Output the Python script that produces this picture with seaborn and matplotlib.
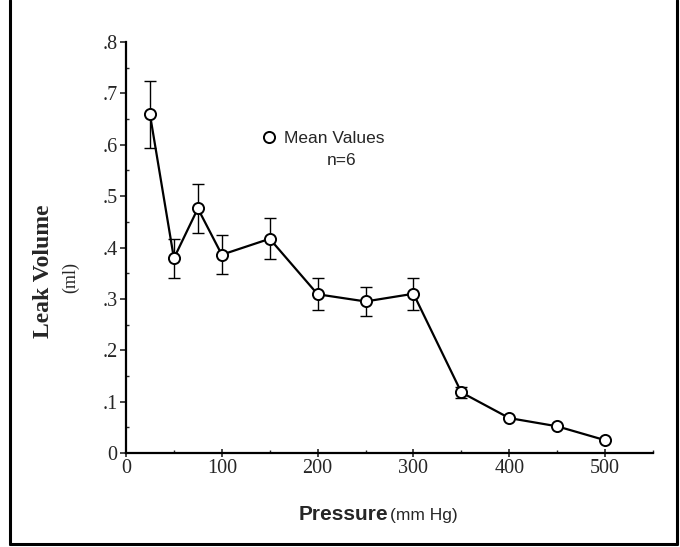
import numpy as np
import pandas as pd
import matplotlib
matplotlib.use("Agg")
import matplotlib.pyplot as plt
import seaborn as sns
from matplotlib.lines import Line2D
from matplotlib.ticker import FixedLocator, MultipleLocator

# values
pressure = [25, 50, 75, 100, 150, 200, 250, 300, 350, 400, 450, 500]
leak_mean = [0.659, 0.379, 0.476, 0.386, 0.417, 0.309, 0.295, 0.310, 0.118, 0.068, 0.052, 0.025]
leak_err = [0.066, 0.038, 0.047, 0.038, 0.040, 0.031, 0.028, 0.031, 0.010, 0.0, 0.0, 0.0]

x_ticks = [0, 100, 200, 300, 400, 500]
y_ticks = [0, 0.1, 0.2, 0.3, 0.4, 0.5, 0.6, 0.7, 0.8]
y_tick_labels = ["0", ".1", ".2", ".3", ".4", ".5", ".6", ".7", ".8"]

df = pd.DataFrame({"Pressure": pressure, "Leak": leak_mean, "Err": leak_err})

sns.set_style("ticks")
serif = "Liberation Serif"
sans = "Liberation Sans"

fig = plt.figure(figsize=(6.8, 5.47), dpi=100)
ax = fig.add_axes([0.1853, 0.1718, 0.775, 0.7514])

# error bars below the markers
has_err = df["Err"] > 0
ax.errorbar(df.loc[has_err, "Pressure"], df.loc[has_err, "Leak"], yerr=df.loc[has_err, "Err"],
            fmt="none", ecolor="black", elinewidth=1.0, capsize=4, capthick=1.0, zorder=2)

sns.lineplot(data=df, x="Pressure", y="Leak", ax=ax, color="black", linewidth=1.6,
             marker="o", markersize=8, markerfacecolor="white", markeredgecolor="black",
             markeredgewidth=1.4, legend=False, zorder=3)

ax.set_xlim(0, 550)
ax.set_ylim(0, 0.8)
ax.xaxis.set_major_locator(FixedLocator(x_ticks))
ax.xaxis.set_minor_locator(MultipleLocator(50))
ax.yaxis.set_major_locator(FixedLocator(y_ticks))
ax.yaxis.set_minor_locator(MultipleLocator(0.05))
ax.set_yticklabels(y_tick_labels)
for lab in ax.get_xticklabels() + ax.get_yticklabels():
    lab.set_fontfamily(serif)
    lab.set_fontsize(14.5)
ax.tick_params(axis="y", which="major", direction="out", length=4, width=1.2, pad=2)
ax.tick_params(axis="x", which="major", direction="inout", length=6, width=1.2, pad=1)
ax.tick_params(axis="both", which="minor", direction="in", length=2.5, width=1.0)

sns.despine(ax=ax)
for s in ["left", "bottom"]:
    ax.spines[s].set_linewidth(1.6)
    ax.spines[s].set_color("black")

ax.set_xlabel("")
ax.set_ylabel("")

# axis titles
ax.text(-0.1575, 0.443, "Leak Volume", transform=ax.transAxes, rotation=90,
        ha="center", va="center", fontsize=17, fontfamily=serif, fontweight="bold")
ax.text(-0.106, 0.428, "(ml)", transform=ax.transAxes, rotation=90,
        ha="center", va="center", fontsize=13, fontfamily=serif)
ax.text(0.328, -0.163, "Pressure", transform=ax.transAxes, ha="left", va="baseline",
        fontsize=15, fontfamily=sans, fontweight="bold")
ax.text(0.501, -0.163, "(mm Hg)", transform=ax.transAxes, ha="left", va="baseline",
        fontsize=12.5, fontfamily=sans)

# legend
handle = Line2D([], [], linestyle="none", marker="o", markersize=8, markerfacecolor="white",
                markeredgecolor="black", markeredgewidth=1.4)
leg = ax.legend([handle], ["Mean Values"], loc="center left", bbox_to_anchor=(0.255, 0.766),
                frameon=False, handlelength=1.0, handletextpad=0.35, borderpad=0, borderaxespad=0,
                prop={"family": sans, "size": 12.5})
ax.text(0.41, 0.712, "n=6", transform=ax.transAxes, ha="center", va="center",
        fontsize=12.5, fontfamily=sans)

# outer frame of the figure
frame_kw = dict(transform=fig.transFigure, color="black", linewidth=2.2)
fig.add_artist(Line2D([10 / 680, 10 / 680], [3 / 547, 1], **frame_kw))
fig.add_artist(Line2D([677 / 680, 677 / 680], [3 / 547, 1], **frame_kw))
fig.add_artist(Line2D([10 / 680, 677 / 680], [3 / 547, 3 / 547], **frame_kw))

fig.savefig("out.png", dpi=100)
